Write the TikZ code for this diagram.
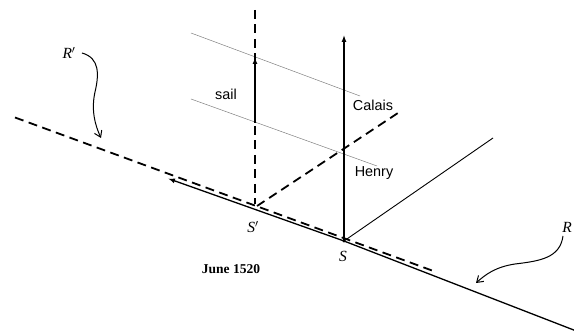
\documentclass[tikz,border=0pt]{standalone}
\usepackage{fontspec}
\setmainfont{Liberation Serif}
\newfontfamily\sansf{Liberation Sans}
\usetikzlibrary{arrows.meta}
\begin{document}
\begin{tikzpicture}[x=1pt,y=-1pt,
  thickdash/.style={line width=1.8pt,dash pattern=on 9pt off 5.5pt},
  mainline/.style={line width=1.3pt},
  thinline/.style={line width=0.9pt},
  grayline/.style={line width=0.5pt,gray},
  solidarrow/.style={-{Latex[length=7pt,width=5pt]}},
  curlyarrow/.style={line width=1pt,-{Straight Barb[length=6pt,width=8pt]}},
  sanslabel/.style={font=\sansf\fontsize{14.4}{16}\selectfont,inner sep=0pt},
  italabel/.style={font=\fontsize{15.5}{17}\selectfont\itshape,inner sep=0pt},
]
\useasboundingbox (0,0) rectangle (574,336);
% coordinates
\coordinate (S) at (344,241);
\coordinate (Sp) at (257,206);
\coordinate (Rend) at (575,330.5);
\coordinate (Ltip) at (168,178.5);
\coordinate (Rp1) at (15,117.5);
\coordinate (Rp2) at (432,270.5);
\coordinate (Vtop) at (255,10);
\coordinate (Vbot) at (255,204);
\coordinate (sailA) at (255,123);
\coordinate (sailB) at (255,57);
\coordinate (g1a) at (191,33);
\coordinate (g1b) at (360,96);
\coordinate (g2a) at (191,99);
\coordinate (g2b) at (377,166);
\coordinate (Stop) at (344,35);
\coordinate (Dend) at (398,113);
\coordinate (Tend) at (493,138);
% gray guide lines
\draw[grayline] (g1a) -- (g1b);
\draw[grayline] (g2a) -- (g2b);
% dashed lines
\draw[thickdash] (Rp1) -- (Rp2);
\draw[thickdash] (Vtop) -- (Vbot);
\draw[thickdash] (Sp) -- (Dend);
% solid lines
\draw[mainline] (S) -- (Rend);
\draw[mainline,solidarrow] (S) -- (Ltip);
\draw[mainline,solidarrow] (S) -- (Stop);
\draw[line width=1.8pt,solidarrow] (sailA) -- (sailB);
\draw[thinline] (S) -- (Tend);
\fill (S) circle (1.6pt);
% labels
\node[sanslabel] (sail) at (226,94) {sail};
\node[sanslabel] (calais) at (373,105) {Calais};
\node[sanslabel] (henry) at (374,173) {Henry};
\node[inner sep=0pt,font=\fontsize{13.5}{15}\selectfont\bfseries] (june) at (231,269) {June 1520};
\node[italabel] (Slab) at (343,256) {S};
\node[italabel] (Splab) at (253,227) {S$'$};
\node[italabel] (Rlab) at (567,227) {R};
\node[italabel] (Rplab) at (69,53) {R$'$};
% curly arrows
\draw[curlyarrow] (82,53) .. controls (100,58) and (99,75) .. (95,92) .. controls (91,110) and (95,125) .. (101,138);
\draw[curlyarrow] (563,236) .. controls (560,258) and (540,261) .. (515,264) .. controls (495,267) and (485,275) .. (476,283);
\end{tikzpicture}
\end{document}
